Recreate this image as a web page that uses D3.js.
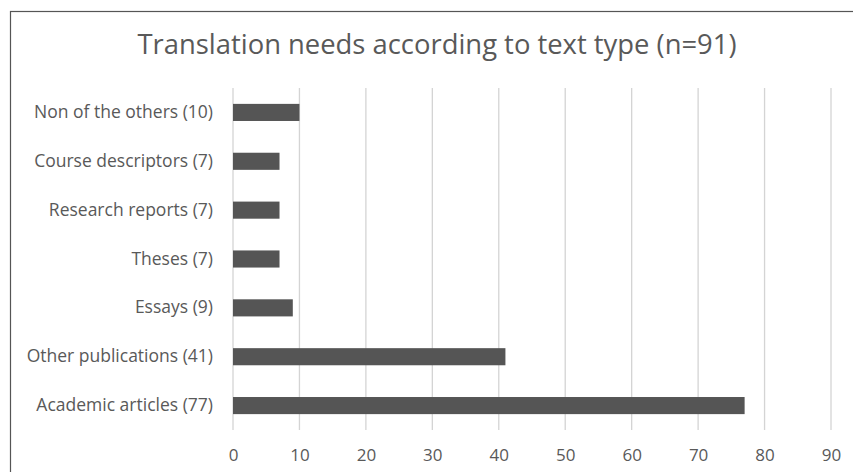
<!DOCTYPE html>
<html>
<head>
<meta charset="utf-8">
<script src="https://cdn.jsdelivr.net/npm/d3@7"></script>
<style>
  body { margin: 0; background: #fff; }
  svg text { font-family: "Open Sans", "Noto Sans", sans-serif; fill: #595959; }
</style>
</head>
<body>
<div id="chart"></div>
<script>
// data
const categories = ["Non of the others (10)", "Course descriptors (7)", "Research reports (7)",
  "Theses (7)", "Essays (9)", "Other publications (41)", "Academic articles (77)"];
const values = [10, 7, 7, 7, 9, 41, 77];
const xTicks = [0, 10, 20, 30, 40, 50, 60, 70, 80, 90];
const title = "Translation needs according to text type (n=91)";

const width = 853, height = 472;
const margin = { top: 88, right: 22, bottom: 42, left: 233 };

const svg = d3.select('#chart').append('svg')
  .attr('width', width)
  .attr('height', height);

svg.append('rect')
  .attr('x', 10.5).attr('y', 11.5)
  .attr('width', 900).attr('height', 500)
  .attr('fill', 'none')
  .attr('stroke', '#555')
  .attr('stroke-width', 1.2);

const x = d3.scaleLinear()
  .domain([0, 90])
  .range([margin.left, 831]);

const y = d3.scaleBand()
  .domain(categories)
  .range([margin.top, height - margin.bottom])
  .paddingInner(0.65)
  .paddingOuter(0.325);

// gridlines
svg.append('g')
  .selectAll('line')
  .data(xTicks)
  .join('line')
  .attr('x1', d => x(d)).attr('x2', d => x(d))
  .attr('y1', margin.top).attr('y2', height - margin.bottom)
  .attr('stroke', '#d4d4d4')
  .attr('stroke-width', 1.3);

// bars
svg.append('g')
  .selectAll('rect')
  .data(values)
  .join('rect')
  .attr('x', x(0))
  .attr('y', (d, i) => y(categories[i]))
  .attr('width', d => x(d) - x(0))
  .attr('height', y.bandwidth())
  .attr('fill', '#555555');

// y axis labels
const yAxis = svg.append('g')
  .attr('transform', `translate(${margin.left - 20},0)`)
  .call(d3.axisLeft(y).tickSize(0).tickPadding(0));
yAxis.select('.domain').remove();
yAxis.selectAll('text')
  .style('font-size', '17.5px')
  .attr('fill', '#595959');

// x axis labels
const xAxis = svg.append('g')
  .attr('transform', `translate(0,${height - margin.bottom})`)
  .call(d3.axisBottom(x).tickValues(xTicks).tickSize(0).tickPadding(19));
xAxis.select('.domain').remove();
xAxis.selectAll('text')
  .style('font-size', '17px')
  .attr('fill', '#595959');

// title
svg.append('text')
  .attr('x', 437)
  .attr('y', 54)
  .attr('text-anchor', 'middle')
  .style('font-size', '27.4px')
  .text(title);
</script>
</body>
</html>
